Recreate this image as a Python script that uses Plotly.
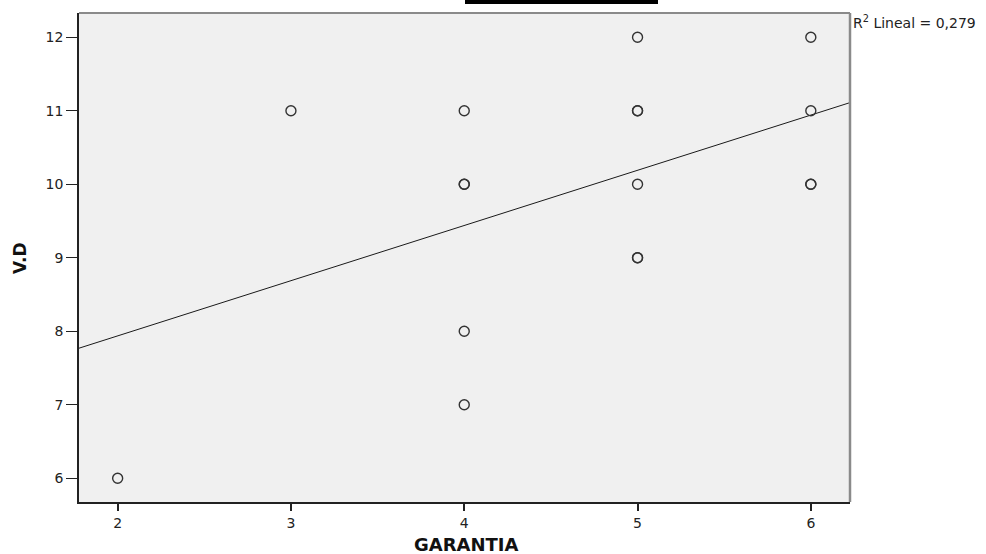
import plotly.graph_objects as go

# Data
garantia = [2, 3, 4, 4, 4, 4, 4, 5, 5, 5, 5, 5, 5, 6, 6, 6, 6]
vd = [6, 11, 11, 10, 10, 8, 7, 12, 11, 11, 10, 9, 9, 12, 11, 10, 10]
fit_slope = 0.751
fit_intercept = 6.435
r2_label = "R<sup>2</sup> Lineal = 0,279"
x_ticks = [2, 3, 4, 5, 6]
y_ticks = [6, 7, 8, 9, 10, 11, 12]
x_range = [1.777, 6.226]
y_range = [5.677, 12.33]

W, H = 986, 554
L, R, T, B = 79, 136, 13, 52

fig = go.Figure()

fit_x = x_range
fit_y = [fit_intercept + fit_slope * v for v in fit_x]
fig.add_trace(go.Scatter(x=fit_x, y=fit_y, mode="lines",
                         line=dict(color="#1a1a1a", width=1), hoverinfo="skip"))

fig.add_trace(go.Scatter(x=garantia, y=vd, mode="markers",
                         marker=dict(symbol="circle-open", size=10,
                                     color="#333333", line=dict(width=1.4))))

font = "DejaVu Sans, Liberation Sans, Arial, sans-serif"

fig.update_layout(
    width=W, height=H,
    margin=dict(l=L, r=R, t=T, b=B),
    paper_bgcolor="white",
    plot_bgcolor="#f0f0f0",
    showlegend=False,
    font=dict(family=font, size=14, color="#222222"),
    xaxis=dict(range=x_range, tickvals=x_ticks, showgrid=False, zeroline=False,
               ticks="outside", ticklen=7, tickwidth=2, tickcolor="#222",
               showline=True, linecolor="#222", linewidth=1.5,
               tickfont=dict(size=14, family=font, color="#222")),
    yaxis=dict(range=y_range, tickvals=y_ticks, showgrid=False, zeroline=False,
               ticks="outside", ticklen=11, tickwidth=1.2, tickcolor="#222",
               showline=True, linecolor="#222", linewidth=1.5,
               tickfont=dict(size=14, family=font, color="#222")),
)

pw = W - L - R
ph = H - T - B

def px_to_paper_x(px):
    return (px - L) / pw

def px_to_paper_y(py):
    return (H - B - py) / ph

# gray top and right border
fig.add_shape(type="line", xref="paper", yref="paper", x0=0, x1=1, y0=1, y1=1,
              line=dict(color="#8a8a8a", width=2))
fig.add_shape(type="line", xref="paper", yref="paper", x0=1, x1=1, y0=0, y1=1,
              line=dict(color="#8a8a8a", width=2.5))

# black bar at top (title redaction)
fig.add_shape(type="rect", xref="paper", yref="paper",
              x0=px_to_paper_x(465), x1=px_to_paper_x(658),
              y0=px_to_paper_y(4), y1=px_to_paper_y(-2),
              fillcolor="black", line=dict(width=0))

fig.add_annotation(text=r2_label, xref="paper", yref="paper",
                   x=px_to_paper_x(851), y=px_to_paper_y(22),
                   xanchor="left", yanchor="middle", showarrow=False,
                   font=dict(size=14, family=font, color="#222"))

fig.add_annotation(text="<b>GARANTIA</b>", xref="paper", yref="paper",
                   x=px_to_paper_x(466), y=px_to_paper_y(544),
                   xanchor="center", yanchor="middle", showarrow=False,
                   font=dict(size=18, family=font, color="#111"))

fig.add_annotation(text="<b>V.D</b>", xref="paper", yref="paper",
                   x=px_to_paper_x(20), y=px_to_paper_y(258),
                   xanchor="center", yanchor="middle", showarrow=False,
                   textangle=-90,
                   font=dict(size=17, family=font, color="#111"))

fig.write_html("out.html")
